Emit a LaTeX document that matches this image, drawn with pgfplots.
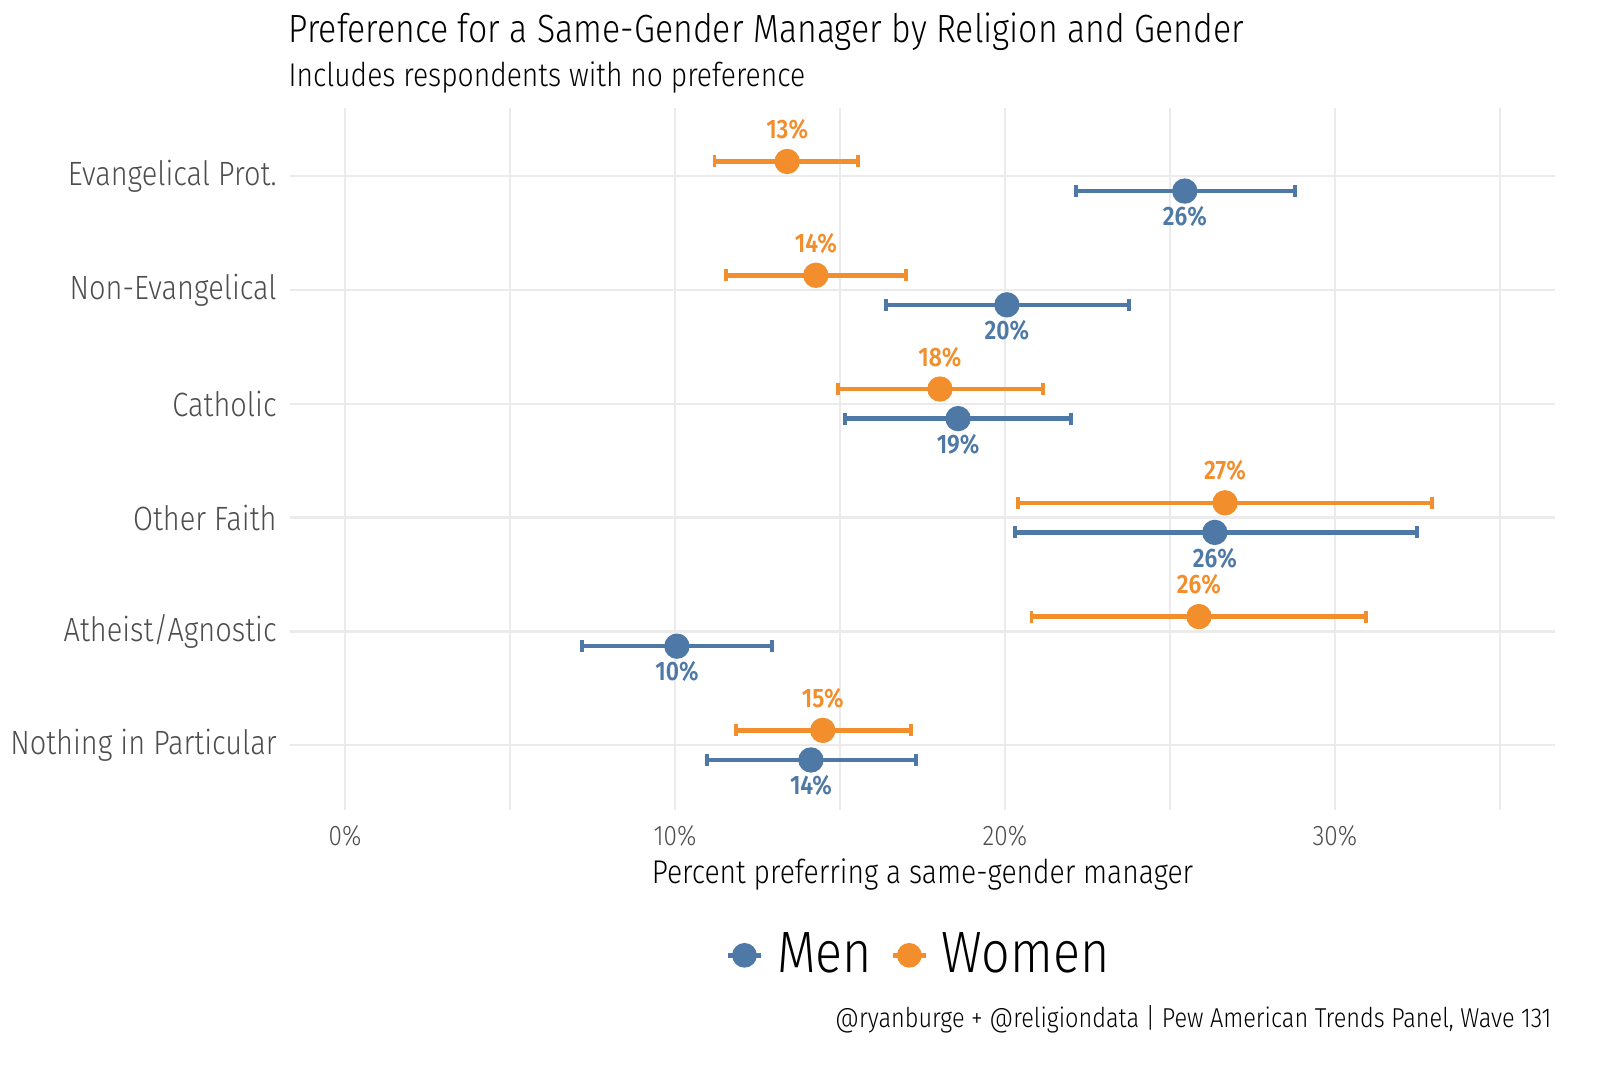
\documentclass[border=0pt]{standalone}
\usepackage{pgfplots}
\pgfplotsset{compat=1.18}
\usepackage{pgfplotstable}
\usepackage{fontspec}
\setmainfont{Fira Sans}[UprightFont=* Light, BoldFont=* SemiBold, FakeStretch=0.86]

\definecolor{menblue}{HTML}{4E79A7}
\definecolor{womenorange}{HTML}{F28E2B}
\definecolor{gridgray}{HTML}{EBEBEB}
\definecolor{labgray}{HTML}{4D4D4D}

% y: category position (6 = Evangelical ... 1 = Nothing), dodged by +-0.13
\pgfplotstableread{
y     x      lo     hi     lab
6.13  13.40  11.20  15.55  13
5.13  14.27  11.55  17.00  14
4.13  18.03  14.94  21.15  18
3.13  26.67  20.40  32.94  27
2.13  25.88  20.80  30.94  26
1.13  14.48  11.85  17.15  15
}\women
\pgfplotstableread{
y     x      lo     hi     lab
5.87  25.45  22.15  28.80  26
4.87  20.06  16.40  23.76  20
3.87  18.58  15.15  22.00  19
2.87  26.36  20.30  32.48  26
1.87  10.06   7.18  12.94  10
0.87  14.12  10.97  17.30  14
}\men

\begin{document}
\begin{tikzpicture}
\begin{axis}[
    at={(87pt,76.8pt)}, anchor=south west,
    scale only axis,
    width=379.5pt, height=210.6pt,
    xmin=-1.667, xmax=36.67,
    ymin=0.43, ymax=6.6,
    /pgf/number format/assume math mode=true,
    xtick={0,10,20,30},
    xticklabels={0\%,10\%,20\%,30\%},
    minor xtick={5,15,25,35},
    ytick={1,2,3,4,5,6},
    yticklabels={Nothing in Particular,Atheist/Agnostic,Other Faith,Catholic,Non-Evangelical,Evangelical Prot.},
    grid=both,
    major grid style={draw=gridgray, line width=0.7pt},
    minor grid style={draw=gridgray, line width=0.5pt},
    axis line style={draw=none},
    tick style={draw=none},
    xticklabel style={font=\fontsize{8.5}{10}\selectfont, text=labgray, yshift=-1pt},
    yticklabel style={font=\fontsize{10.1}{12}\selectfont, text=labgray, xshift=-0.5pt},
    xlabel={Percent preferring a same-gender manager},
    xlabel style={font=\fontsize{9.85}{11}\selectfont, yshift=3pt},
    legend style={at={(0.498,-0.207)}, anchor=center, draw=none, fill=none,
        legend columns=2, font=\fontsize{17.5}{20}\selectfont,
        nodes={inner sep=1.5pt},
        /tikz/every odd column/.append style={column sep=2.5pt},
        /tikz/every even column/.append style={column sep=4pt}},
    legend cell align=left,
    error bars/error bar style={line width=1.35pt},
    error bars/error mark options={rotate=90, line width=1.1pt, mark size=1.8pt},
]
\addplot[only marks, mark=*, mark size=3.6pt, color=menblue,
    legend image code/.code={\draw[line width=1.5pt] (0pt,0pt) -- (10pt,0pt);
        \fill (5pt,0pt) circle (3.5pt);},
    error bars/.cd, x dir=both, x explicit,
    ]
    table[x=x, y=y, x error plus expr=\thisrow{hi}-\thisrow{x}, x error minus expr=\thisrow{x}-\thisrow{lo},
          meta=lab]{\men};
\addlegendentry{Men}
\addplot[only marks, mark=*, mark size=3.6pt, color=womenorange,
    legend image code/.code={\draw[line width=1.5pt] (0pt,0pt) -- (10pt,0pt);
        \fill (5pt,0pt) circle (3.5pt);},
    error bars/.cd, x dir=both, x explicit,
    ]
    table[x=x, y=y, x error plus expr=\thisrow{hi}-\thisrow{x}, x error minus expr=\thisrow{x}-\thisrow{lo},
          meta=lab]{\women};
\addlegendentry{Women}
% value labels
\addplot[only marks, mark=none, point meta=explicit,
    nodes near coords={\pgfmathprintnumber[fixed,precision=0]{\pgfplotspointmeta}\%},
    nodes near coords style={anchor=north, inner sep=0pt, yshift=-4.5pt,
        font=\bfseries\fontsize{8}{9}\selectfont, text=menblue},
    forget plot]
    table[x=x, y=y, meta=lab]{\men};
\addplot[only marks, mark=none, point meta=explicit,
    nodes near coords={\pgfmathprintnumber[fixed,precision=0]{\pgfplotspointmeta}\%},
    nodes near coords style={anchor=base, inner sep=0pt, yshift=6.9pt,
        font=\bfseries\fontsize{8}{9}\selectfont, text=womenorange},
    forget plot]
    table[x=x, y=y, meta=lab]{\women};
\end{axis}
\node[anchor=base west, inner sep=0pt, font=\fontsize{11.8}{13}\selectfont] at (86.4pt,307pt)
    {Preference for a Same-Gender Manager by Religion and Gender};
\node[anchor=base west, inner sep=0pt, font=\fontsize{9.85}{11}\selectfont] at (86.4pt,294pt)
    {Includes respondents with no preference};
\node[anchor=base east, inner sep=0pt, font=\fontsize{8.2}{10}\selectfont] at (465.6pt,11.7pt)
    {@ryanburge + @religiondata | Pew American Trends Panel, Wave 131};
\pgfresetboundingbox
\path (0,0) rectangle (480pt,319.8pt);
\end{tikzpicture}
\end{document}
